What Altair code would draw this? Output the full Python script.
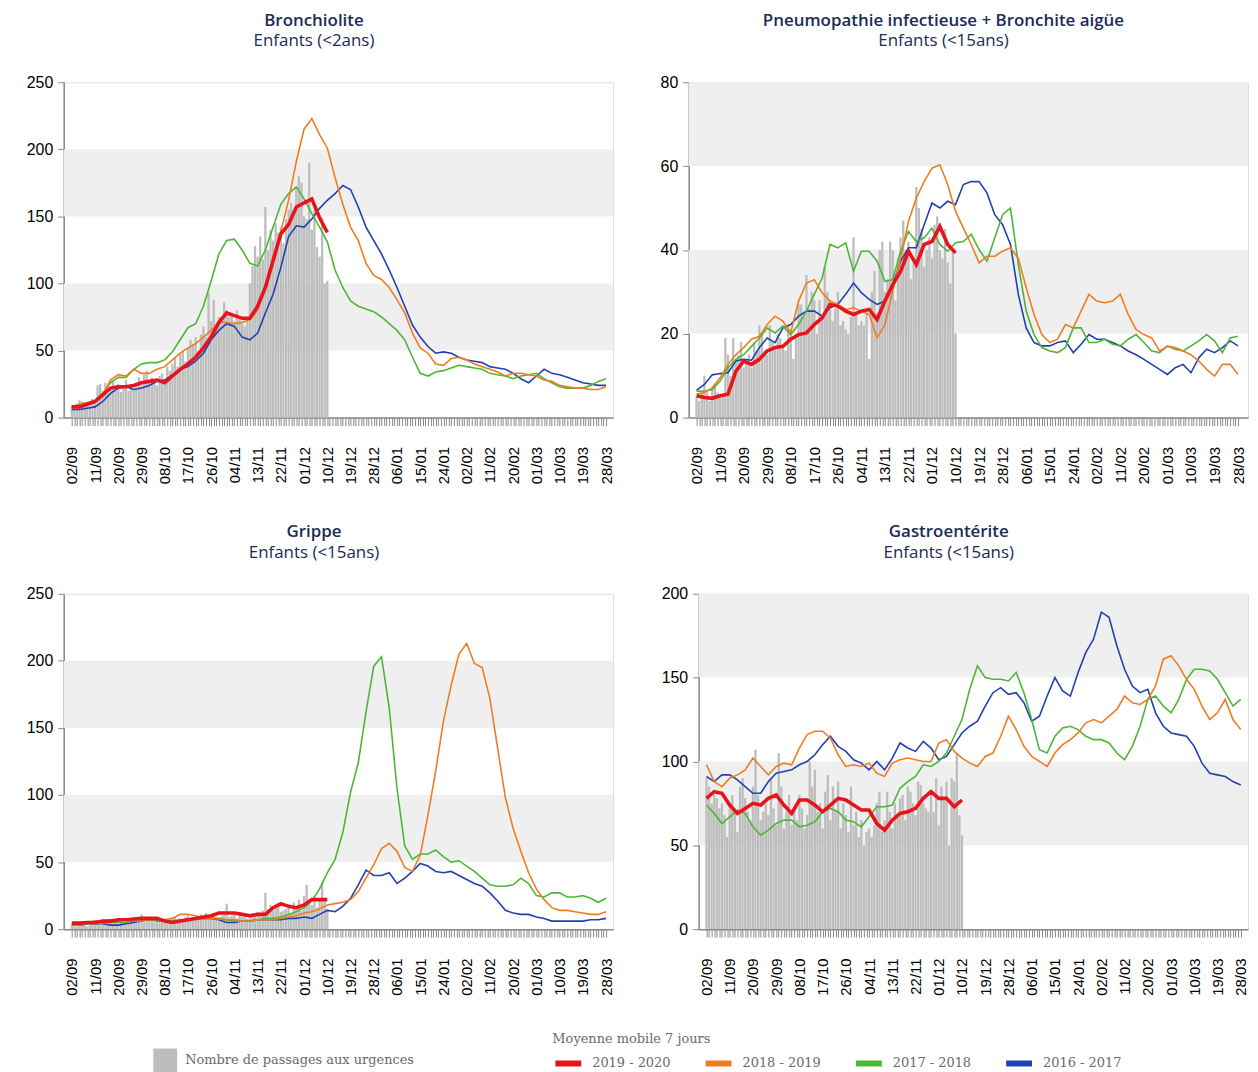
import altair as alt
import pandas as pd

# ---------------- data ----------------
DAYS_LINE = list(range(0, 208, 3))   # one point every 3 days, 02/09 -> 28/03
DAYS_RED = list(range(0, 100, 3))    # current season, 02/09 -> 10/12
DAYS_BAR = list(range(0, 100))       # daily counts, current season

DATE_LABELS = ["02/09", "11/09", "20/09", "29/09", "08/10", "17/10", "26/10", "04/11",
               "13/11", "22/11", "01/12", "10/12", "19/12", "28/12", "06/01", "15/01",
               "24/01", "02/02", "11/02", "20/02", "01/03", "10/03", "19/03", "28/03"]

SEASONS = ["2019 - 2020", "2018 - 2019", "2017 - 2018", "2016 - 2017"]
SEASON_COLORS = ["#e8131b", "#f07c22", "#4db636", "#2140b0"]
BAR_LABEL = "Nombre de passages aux urgences"

# --- Bronchiolite, enfants < 2 ans
bron_bars = [9, 7, 6, 13, 12, 8, 10, 9, 14, 12,
             24, 25, 20, 26, 18, 22, 27, 20, 25, 19,
             24, 28, 20, 25, 22, 26, 30, 24, 32, 35,
             28, 30, 26, 24, 31, 33, 28, 38, 35, 40,
             45, 38, 48, 50, 42, 52, 58, 55, 60, 50,
             62, 68, 60, 93, 72, 88, 70, 75, 72, 86,
             80, 75, 78, 72, 80, 74, 70, 68, 72, 100,
             113, 128, 120, 135, 118, 157, 125, 140, 132, 145,
             138, 142, 130, 148, 155, 160, 150, 170, 180, 175,
             150, 148, 190, 140, 155, 127, 120, 149, 100, 102]
bron_red = [8, 8, 10, 12, 17, 22, 23, 23, 24, 26, 27, 28, 26, 31, 36, 40, 45, 52, 60, 71,
            78, 76, 74, 74, 83, 97, 117, 137, 144, 157, 160, 163, 149, 138]
bron_orange = [8, 10, 11, 12, 17, 28, 32, 31, 36, 33, 33, 36, 38, 43, 48, 52, 55, 60, 65, 71,
               71, 70, 71, 73, 80, 97, 120, 139, 162, 191, 215, 223, 211, 201,
               179, 159, 142, 132, 115, 106, 103, 97, 88, 78, 63, 52, 48, 40, 39, 44, 45, 43,
               40, 38, 36, 34, 31, 33, 33, 32, 31, 28, 27, 24, 23, 22, 22, 21, 21, 23]
bron_green = [8, 10, 11, 13, 18, 26, 30, 30, 36, 40, 41, 41, 43, 49, 58, 67, 70, 83, 102, 122,
              132, 133, 125, 115, 113, 125, 142, 159, 167, 172, 163, 152, 142, 131,
              110, 97, 87, 83, 81, 79, 75, 70, 65, 58, 45, 33, 31, 34, 35, 37, 39, 38,
              37, 36, 33, 32, 31, 29, 31, 32, 33, 29, 26, 23, 22, 22, 22, 24, 27, 29]
bron_blue = [6, 6, 7, 8, 12, 18, 22, 23, 21, 22, 24, 27, 28, 32, 36, 38, 42, 48, 58, 65,
             70, 68, 60, 58, 63, 78, 92, 112, 135, 143, 142, 148, 156, 162,
             167, 173, 170, 157, 142, 132, 122, 110, 97, 83, 69, 60, 53, 48, 49, 48, 45, 43,
             42, 41, 38, 37, 36, 33, 29, 26, 31, 36, 33, 32, 30, 28, 26, 25, 24, 24]

# --- Pneumopathie infectieuse + Bronchite aigue, enfants < 15 ans
pneu_bars = [5, 4, 6, 10, 6, 4, 7, 8, 6, 5,
             5, 19, 15, 10, 19, 14, 15, 18, 12, 14,
             15, 12, 18, 16, 22, 20, 16, 15, 22, 18,
             17, 20, 19, 17, 16, 22, 21, 14, 20, 27,
             27, 24, 34, 26, 30, 28, 20, 28, 24, 36,
             30, 28, 23, 26, 30, 22, 23, 21, 20, 24,
             43, 25, 22, 23, 22, 25, 14, 30, 35, 25,
             40, 42, 30, 33, 42, 40, 28, 38, 43, 47,
             40, 42, 33, 37, 55, 50, 45, 36, 40, 43,
             38, 46, 48, 40, 38, 45, 37, 32, 40, 20]
pneu_red = [5.2, 4.8, 4.6, 5.2, 5.6, 11, 13.5, 12.7, 13.9, 15.9, 16.7, 17, 18.7, 19.8, 20.2,
            22.2, 23.8, 27, 26.6, 25.4, 24.6, 25.4, 25.8, 23.4, 27.8, 31.7, 34.9, 39.7, 36.5,
            41.3, 42, 45.6, 41.3, 39.3]
pneu_orange = [5.6, 6, 7.1, 9.5, 12.7, 15, 16.7, 18.7, 19.4, 22.2, 24.2, 23, 20.2, 27.8, 32.1,
               32.9, 29.8, 27.8, 27, 25.8, 26.2, 25.4, 24.6, 19, 22.2, 30.2, 38, 46.8, 52.4,
               56.3, 59.5, 60.3, 55.6, 49.2,
               45.2, 41.3, 36.9, 38.5, 38.5, 39.7, 40.5, 38, 31, 24.6, 19.8, 17.9, 18.7, 22.2,
               21.4, 25.4, 29.4, 27.8, 27.4, 27.8, 29.4, 24.6, 21, 19.8, 19, 15.9, 17, 16.7,
               15.9, 15, 13.5, 11.5, 9.9, 12.7, 12.7, 10.3]
pneu_green = [6.3, 6.3, 6.7, 8.7, 11.9, 13.9, 15, 17, 19, 21.4, 20.2, 21.8, 19.8, 22.2, 25.4,
              29.4, 33.3, 41.3, 40.5, 41.7, 34.9, 39.7, 39.7, 37.3, 32.5, 32.9, 39.7, 44.4, 42,
              42.9, 45.2, 41.3, 39.7, 41.7,
              42, 43.7, 40.1, 37.3, 42.9, 48.4, 50, 36.5, 25.4, 19.8, 16.7, 15.9, 15.5, 16.7,
              21.4, 21.4, 17.9, 17.9, 18.7, 17.5, 17.1, 18.7, 19.8, 17.9, 15.9, 15.5, 17.1,
              16.3, 15.9, 17.1, 18.3, 19.8, 18.3, 15.5, 19, 19.4]
pneu_blue = [6.5, 7.9, 10.2, 10.5, 10.7, 13.5, 13.9, 13.7, 16.7, 19, 17.9, 21.4, 22.2, 24.2,
             25.4, 25.4, 24.2, 26.2, 27, 29.4, 32.1, 29.8, 28.2, 27, 27.8, 31.7, 37.3, 40.5,
             40.5, 46, 51.2, 50, 51.6, 50.8,
             55.6, 56.3, 56.3, 53.6, 48.4, 46, 41.3, 29.4, 21.4, 17.9, 17.1, 17.1, 17.9, 18.3,
             15.5, 17.5, 19.8, 18.7, 18.7, 17.9, 17.1, 15.9, 15, 13.9, 12.7, 11.5, 10.3, 11.9,
             12.7, 10.7, 14.3, 16.3, 15.5, 16.7, 18.3, 17.1]

# --- Grippe, enfants < 15 ans
grip_bars = [3, 4, 2, 5, 3, 4, 2, 3, 4, 3,
             4, 3, 5, 4, 3, 5, 4, 6, 4, 5,
             5, 4, 6, 5, 7, 5, 6, 11, 5, 6,
             6, 7, 5, 6, 7, 6, 8, 5, 7, 9,
             9, 6, 8, 7, 9, 10, 7, 8, 9, 8,
             11, 8, 12, 9, 10, 12, 9, 8, 10, 11,
             19, 9, 10, 12, 8, 12, 9, 10, 8, 9,
             11, 10, 13, 12, 14, 27, 15, 18, 14, 16,
             19, 13, 14, 15, 16, 12, 20, 17, 22, 14,
             25, 33, 20, 18, 23, 16, 22, 35, 22, 15]
grip_red = [4.5, 4.5, 5, 5, 6, 6, 7, 7, 7.5, 8, 8, 8, 6, 5, 6, 7, 8, 9, 10, 12, 12, 12, 11,
            10, 11, 11, 16, 19, 17, 16, 18, 22, 22, 22]
grip_orange = [4, 4, 5, 6, 6, 7, 6, 7, 7, 7, 7, 8, 7, 8, 11, 11, 10, 8, 8, 7.5, 7, 7, 6, 6,
               7, 7, 7, 8, 9, 10, 12, 13, 15, 18,
               19, 20, 22, 28, 38, 48, 60, 64, 58, 46, 43, 55, 85, 118, 155, 182, 205, 213,
               198, 195, 172, 135, 98, 75, 58, 42, 30, 22, 16, 14, 14, 13, 12, 11, 11, 13]
grip_green = [3, 3, 4, 4, 4.5, 5, 5, 5, 6, 6, 7, 6, 6, 6, 7, 7, 7.5, 8, 8, 8, 7, 6, 6, 6,
              7, 8, 8, 9, 11, 13, 16, 21, 30, 42,
              52, 72, 102, 124, 162, 196, 203, 165, 105, 62, 52, 56, 56, 59, 54, 50, 51, 47,
              43, 38, 33, 32, 32, 33, 38, 34, 25, 24, 27, 27, 24, 24, 25, 23, 20, 23]
grip_blue = [4, 3, 4, 4, 4, 3, 3, 4, 5, 6, 7, 7, 6, 5, 6, 7.5, 8, 8, 8, 7, 5, 5, 6, 6, 7, 7,
             7, 7, 8, 8, 9, 8, 11, 14,
             13, 17, 23, 33, 44, 40, 40, 42, 34, 38, 43, 49, 47, 43, 42, 43, 40, 37, 34, 32,
             27, 21, 14, 12, 11, 11, 9, 8, 6, 6, 6, 6, 6, 7, 7, 8]

# --- Gastroenterite, enfants < 15 ans
gast_bars = [90, 85, 75, 80, 78, 72, 75, 68, 55, 73,
             80, 70, 58, 85, 90, 78, 70, 65, 85, 107,
             80, 65, 70, 75, 68, 90, 72, 62, 105, 85,
             60, 70, 80, 62, 70, 65, 80, 72, 60, 68,
             100, 85, 95, 70, 75, 60, 82, 92, 65, 85,
             70, 88, 60, 75, 68, 58, 85, 62, 70, 55,
             65, 50, 58, 60, 55, 62, 75, 82, 58, 65,
             82, 70, 60, 75, 68, 78, 80, 65, 85, 82,
             75, 68, 88, 86, 75, 72, 70, 80, 70, 90,
             62, 85, 78, 88, 50, 90, 88, 105, 68, 56]
gast_red = [78, 82, 81, 74, 69, 72, 75, 74, 78, 80, 74, 69, 77, 77, 74, 70, 74, 78, 77, 74,
            71, 71, 63, 59, 65, 69, 70, 72, 78, 82, 78, 78, 73, 77]
gast_orange = [98, 88, 85, 90, 92, 95, 102, 97, 92, 97, 99, 98, 108, 116, 118, 118, 114, 104,
               97, 98, 97, 99, 93, 91, 99, 101, 102, 101, 100, 100, 111, 113, 106, 102,
               99, 97, 103, 105, 115, 127, 119, 109, 103, 100, 97, 105, 110, 113, 117, 123,
               125, 123, 127, 131, 139, 135, 134, 137, 145, 161, 163, 157, 149, 143, 133, 125,
               129, 137, 125, 119]
gast_green = [74, 69, 63, 67, 71, 69, 61, 56, 59, 63, 65, 65, 61, 62, 64, 70, 72, 70, 65, 64,
              61, 67, 73, 73, 74, 84, 88, 91, 98, 97, 100, 105, 115, 125,
              143, 157, 150, 149, 149, 148, 153, 141, 125, 107, 105, 115, 120, 121, 119, 115,
              113, 113, 111, 105, 101, 109, 121, 137, 139, 133, 129, 137, 149, 155, 155, 154,
              149, 141, 133, 137]
gast_blue = [91, 88, 92, 92, 89, 85, 81, 81, 88, 93, 94, 95, 98, 100, 104, 110, 115, 109, 106,
             101, 99, 95, 100, 95, 102, 111, 108, 106, 112, 108, 101, 103, 110, 117,
             121, 124, 133, 141, 144, 140, 141, 135, 124, 127, 139, 150, 142, 139, 153, 165,
             173, 189, 186, 169, 155, 145, 141, 143, 129, 121, 117, 116, 115, 109, 99, 93, 92,
             91, 88, 86]

# ---------------- style ----------------
NAVY = "#1c2b55"
FONT = "Open Sans"
LEG_FONT = "DejaVu Serif"
LEG_COLOR = "#6a6a6a"
BAND_COLOR = "#efefef"
BAR_COLOR = "#bdbdbd"
PANEL_H = 337

label_expr = ("datum.value % 9 === 0 ? " + str(DATE_LABELS) + "[datum.value / 9] : ''")

x_axis = alt.Axis(values=list(range(0, 208)), labelExpr=label_expr, labelAngle=270,
                  labelOverlap=False, labelBound=False, labelFlush=False,
                  tickSize=8, tickWidth=1, labelPadding=21, labelFontSize=15,
                  grid=False, title=None, domainWidth=1.5)

color_scale = alt.Scale(domain=SEASONS, range=SEASON_COLORS)
fill_scale = alt.Scale(domain=[BAR_LABEL], range=[BAR_COLOR])

line_legend = alt.Legend(title="Moyenne mobile 7 jours", orient="none", legendX=491, legendY=955,
                         direction="horizontal", columns=4, symbolType="stroke",
                         symbolSize=676, symbolStrokeWidth=6, labelOffset=8,
                         columnPadding=23, titlePadding=2,
                         labelFont=LEG_FONT, labelFontSize=13, labelColor=LEG_COLOR,
                         titleFont=LEG_FONT, titleFontSize=13, titleFontWeight="normal",
                         titleColor=LEG_COLOR)
bar_legend = alt.Legend(title=None, orient="none", legendX=90, legendY=971,
                        symbolType="square", symbolSize=576, symbolStrokeWidth=0,
                        labelOffset=8, labelLimit=400, labelFont=LEG_FONT, labelFontSize=13,
                        labelColor=LEG_COLOR)


def make_panel(title, subtitle, ymax, ystep, band_lo, band_hi, bars, red, orange, green, blue,
               width, xdom):
    xs = alt.Scale(domain=xdom, nice=False, zero=False)
    ys = alt.Scale(domain=[0, ymax], nice=False)
    y_axis = alt.Axis(values=list(range(0, ymax + 1, ystep)), tickSize=6, labelPadding=5,
                      labelFontSize=16, grid=False, title=None, minExtent=50, maxExtent=50,
                      domainWidth=1.5)
    X = alt.X("day:Q", scale=xs, axis=x_axis)
    Y = alt.Y("value:Q", scale=ys, axis=y_axis)

    bands = alt.Chart(pd.DataFrame({"lo": band_lo, "hi": band_hi})).mark_rect(
        color=BAND_COLOR).encode(
        y=alt.Y("lo:Q", scale=ys, axis=y_axis), y2="hi:Q",
        x=alt.value(0), x2=alt.value(width))

    bar_df = pd.DataFrame({"day": DAYS_BAR, "value": bars, "kind": BAR_LABEL})
    bar_layer = alt.Chart(bar_df).mark_bar(size=2.3).encode(
        x=X, y=Y, fill=alt.Fill("kind:N", scale=fill_scale, legend=bar_legend))

    layers = [bands, bar_layer]
    for season, vals in [("2016 - 2017", blue), ("2017 - 2018", green),
                         ("2018 - 2019", orange)]:
        df = pd.DataFrame({"day": DAYS_LINE, "value": vals, "season": season})
        layers.append(alt.Chart(df).mark_line(strokeWidth=1.6).encode(
            x=X, y=Y, color=alt.Color("season:N", scale=color_scale, legend=line_legend)))
    red_df = pd.DataFrame({"day": DAYS_RED, "value": red, "season": "2019 - 2020"})
    layers.append(alt.Chart(red_df).mark_line(strokeWidth=3.6).encode(
        x=X, y=Y, color=alt.Color("season:N", scale=color_scale, legend=line_legend)))

    return alt.layer(*layers).properties(
        width=width, height=PANEL_H,
        title=alt.TitleParams(text=title, subtitle=subtitle, anchor="middle", frame="bounds",
                              font=FONT, subtitleFont=FONT, fontSize=17, subtitleFontSize=17,
                              fontWeight=600, subtitleFontWeight="normal", color=NAVY,
                              subtitleColor=NAVY, subtitlePadding=4, offset=24))


tl = make_panel("Bronchiolite", "Enfants (<2ans)", 250, 50, [50, 150], [100, 200],
                bron_bars, bron_red, bron_orange, bron_green, bron_blue, 552, [-1.2, 207.8])
tr = make_panel("Pneumopathie infectieuse + Bronchite aigüe", "Enfants (<15ans)", 80, 20,
                [20, 60], [40, 80], pneu_bars, pneu_red, pneu_orange, pneu_green, pneu_blue,
                562, [-1.1, 208.9])
bl = make_panel("Grippe", "Enfants (<15ans)", 250, 50, [50, 150], [100, 200],
                grip_bars, grip_red, grip_orange, grip_green, grip_blue, 552, [-1.2, 207.8])
br = make_panel("Gastroentérite", "Enfants (<15ans)", 200, 50, [50, 150], [100, 200],
                gast_bars, gast_red, gast_orange, gast_green, gast_blue, 552, [-1.1, 207.9])

row1 = alt.hconcat(tl, tr, spacing=23)
row2 = alt.hconcat(bl, br, spacing=33)

chart = alt.vconcat(row1, row2, spacing=37).properties(
    padding={"left": 5, "top": 0, "right": 0, "bottom": 0}
).configure_view(stroke=None).configure_axis(
    domainColor=NAVY, tickColor=NAVY, labelColor=NAVY, labelFont=FONT
).configure(background="white")

chart.save("out.html", embed_options={"renderer": "svg", "actions": False})
